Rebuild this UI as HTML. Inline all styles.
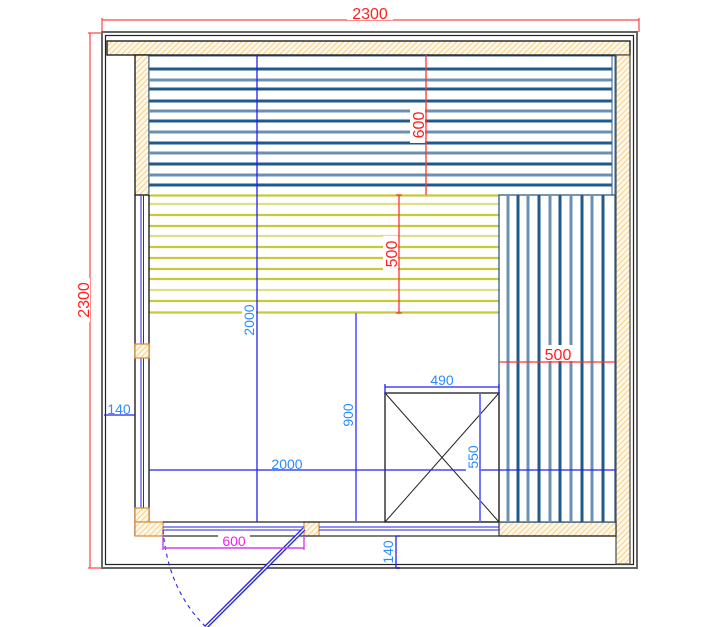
<!DOCTYPE html>
<html><head><meta charset="utf-8"><style>
html,body{margin:0;padding:0;background:#fff;}
svg{display:block;}
text{font-family:"Liberation Sans",sans-serif;}
</style></head><body>
<svg width="724" height="627" viewBox="0 0 724 627" xmlns="http://www.w3.org/2000/svg">
<defs>
<pattern id="h" patternUnits="userSpaceOnUse" width="4" height="4" patternTransform="rotate(45)">
<rect width="4" height="4" fill="#fff8ea"/><line x1="0" y1="0" x2="0" y2="4" stroke="#f3bf5a" stroke-width="1.4"/>
</pattern>
</defs>
<!-- outer frame -->
<rect x="102" y="32" width="535" height="536" fill="none" stroke="#666" stroke-width="2"/>
<rect x="105.5" y="35.5" width="528" height="529" fill="none" stroke="#222" stroke-width="1.2"/>
<!-- red dims 2300 -->
<g stroke="#ff4444" stroke-width="1.2" fill="none">
<line x1="102" y1="20" x2="639" y2="20"/><line x1="102" y1="18" x2="102" y2="32"/><line x1="639" y1="18" x2="639" y2="32"/>
<line x1="90" y1="33" x2="90" y2="568"/><line x1="88" y1="33" x2="102" y2="33"/><line x1="88" y1="568" x2="102" y2="568"/>
</g>
<rect x="347" y="5" width="46" height="15" fill="#fff"/>
<text x="370" y="19" font-size="16" fill="#ff2020" text-anchor="middle">2300</text>
<rect x="76" y="278" width="14" height="44" fill="#fff"/>
<text transform="translate(89,300) rotate(-90)" font-size="16" fill="#ff2020" text-anchor="middle">2300</text>
<!-- walls -->
<g stroke="#111" stroke-width="1.3">
<rect x="107" y="41" width="523" height="14" fill="url(#h)"/>
<rect x="135" y="55" width="14" height="140" fill="url(#h)"/>
<rect x="616" y="55" width="14" height="509" fill="url(#h)" stroke="#555"/>
<rect x="499" y="522" width="117" height="14" fill="url(#h)" stroke="#444"/>
</g>
<!-- top bench -->
<rect x="149" y="56" width="466" height="139" fill="#fff" stroke="#2a5f8f" stroke-width="1"/>
<g stroke-width="3">
<line x1="149" y1="69" x2="612" y2="69" stroke="#1f5a8a"/>
<line x1="149" y1="80" x2="612" y2="80" stroke="#6a91b3"/>
<line x1="149" y1="89" x2="612" y2="89" stroke="#1f5a8a"/>
<line x1="149" y1="101" x2="612" y2="101" stroke="#1f5a8a"/>
<line x1="149" y1="111" x2="612" y2="111" stroke="#6a91b3"/>
<line x1="149" y1="121" x2="612" y2="121" stroke="#1f5a8a"/>
<line x1="149" y1="132" x2="612" y2="132" stroke="#6a91b3"/>
<line x1="149" y1="143" x2="612" y2="143" stroke="#1f5a8a"/>
<line x1="149" y1="153" x2="612" y2="153" stroke="#6a91b3"/>
<line x1="149" y1="164" x2="612" y2="164" stroke="#1f5a8a"/>
<line x1="149" y1="175" x2="612" y2="175" stroke="#6a91b3"/>
<line x1="149" y1="185" x2="612" y2="185" stroke="#1f5a8a"/>
</g>
<line x1="612" y1="56" x2="612" y2="195" stroke="#2a5f8f"/>
<!-- yellow bench -->
<g stroke="#c8c83a" stroke-width="2.2">
<line x1="149" y1="195.5" x2="499" y2="195.5"/>
<line x1="149" y1="204" x2="499" y2="204" stroke="#dede8a"/>
<line x1="149" y1="215" x2="499" y2="215"/>
<line x1="149" y1="226" x2="499" y2="226"/>
<line x1="149" y1="236" x2="499" y2="236" stroke="#dede8a"/>
<line x1="149" y1="247" x2="499" y2="247"/>
<line x1="149" y1="258" x2="499" y2="258"/>
<line x1="149" y1="269" x2="499" y2="269"/>
<line x1="149" y1="279" x2="499" y2="279"/>
<line x1="149" y1="290" x2="499" y2="290" stroke="#dede8a"/>
<line x1="149" y1="301" x2="499" y2="301"/>
<line x1="149" y1="312.5" x2="499" y2="312.5"/>
</g>
<line x1="149" y1="195" x2="149" y2="313" stroke="#c8c83a"/>
<!-- right vertical bench -->
<rect x="499" y="195" width="116" height="327" fill="#fff" stroke="#1f4f7a" stroke-width="1.2"/>
<g stroke-width="3">
<line x1="508" y1="195" x2="508" y2="522" stroke="#6a91b3"/>
<line x1="518" y1="195" x2="518" y2="522" stroke="#1f5a8a"/>
<line x1="528" y1="195" x2="528" y2="522" stroke="#6a91b3"/>
<line x1="539" y1="195" x2="539" y2="522" stroke="#1f5a8a"/>
<line x1="550" y1="195" x2="550" y2="522" stroke="#6a91b3"/>
<line x1="560" y1="195" x2="560" y2="522" stroke="#1f5a8a"/>
<line x1="571" y1="195" x2="571" y2="522" stroke="#6a91b3"/>
<line x1="582" y1="195" x2="582" y2="522" stroke="#1f5a8a"/>
<line x1="592" y1="195" x2="592" y2="522" stroke="#6a91b3"/>
<line x1="603" y1="195" x2="603" y2="522" stroke="#1f5a8a"/>
</g>
<!-- left wall with window -->
<g stroke="#111" stroke-width="1.3">
<line x1="135" y1="195" x2="135" y2="536"/>
<line x1="149" y1="195" x2="149" y2="522"/>
</g>
<line x1="141" y1="195" x2="141" y2="508" stroke="#2222ee" stroke-width="1"/>
<line x1="143.5" y1="195" x2="143.5" y2="508" stroke="#2222ee" stroke-width="1"/>
<g stroke="#d98a3a" stroke-width="1.2">
<rect x="135" y="344" width="14" height="14" fill="url(#h)"/>
<rect x="135" y="508" width="14" height="14" fill="url(#h)"/>
<rect x="135" y="522" width="28" height="14" fill="url(#h)"/>
<rect x="304" y="522" width="15" height="14" fill="url(#h)"/>
</g>
<!-- bottom lines -->
<line x1="163" y1="522" x2="499" y2="522" stroke="#222" stroke-width="1.3"/>
<line x1="163" y1="536" x2="616" y2="536" stroke="#333" stroke-width="1.3"/>
<g stroke="#2222ee" stroke-width="1.1">
<line x1="163" y1="527" x2="304" y2="527"/><line x1="163" y1="530" x2="304" y2="530"/>
<line x1="319" y1="527" x2="499" y2="527"/><line x1="319" y1="530" x2="499" y2="530"/>
</g>
<!-- door -->
<line x1="304" y1="529" x2="206" y2="627" stroke="#2222ee" stroke-width="4"/>
<line x1="304" y1="529" x2="206" y2="627" stroke="#fff" stroke-width="1.3"/>
<path d="M163 530 Q168 590 206 627" fill="none" stroke="#2222ee" stroke-width="1.1" stroke-dasharray="4,4"/>
<g stroke="#cc44ee" stroke-width="1.4">
<line x1="163" y1="548" x2="304" y2="548"/><line x1="163" y1="536" x2="163" y2="550"/><line x1="304" y1="536" x2="304" y2="550"/>
</g>
<rect x="218" y="533" width="32" height="14" fill="#fff"/>
<text x="234" y="546" font-size="14" fill="#ee22ee" text-anchor="middle">600</text>
<!-- stove -->
<g stroke="#222" stroke-width="1">
<rect x="385" y="393" width="114" height="129" fill="none" stroke="#444" stroke-width="1.6"/>
<line x1="385" y1="393" x2="499" y2="522"/><line x1="499" y1="393" x2="385" y2="522"/>
</g>
<!-- blue dims -->
<g stroke="#2222ee" stroke-width="1.3">
<line x1="257" y1="55" x2="257" y2="522"/>
<line x1="356" y1="313" x2="356" y2="522" stroke="#6666ff" stroke-width="1.8"/>
<line x1="149" y1="470" x2="615" y2="470"/>
<line x1="385" y1="387" x2="499" y2="387"/><line x1="385" y1="384" x2="385" y2="393"/><line x1="499" y1="384" x2="499" y2="393"/>
<line x1="480" y1="393" x2="480" y2="522" stroke="#6666ff" stroke-width="1.8"/>
<line x1="104" y1="415" x2="135" y2="415"/>
<line x1="396" y1="536" x2="396" y2="568"/><line x1="396" y1="536" x2="400" y2="536"/><line x1="396" y1="568" x2="400" y2="568"/>
</g>
<g font-size="14" fill="#2a8cff" text-anchor="middle">
<rect x="242" y="302" width="14" height="36" fill="#fff"/>
<text transform="translate(254,320) rotate(-90)">2000</text>
<rect x="341" y="400" width="14" height="30" fill="#fff"/>
<text transform="translate(353,415) rotate(-90)">900</text>
<rect x="270" y="456" width="34" height="13" fill="#fff"/>
<text x="287" y="469">2000</text>
<text x="442" y="385">490</text>
<rect x="466" y="443" width="13" height="28" fill="#fff"/>
<text transform="translate(478,457) rotate(-90)">550</text>
<text x="119" y="414">140</text>
<text transform="translate(393,552) rotate(-90)">140</text>
</g>
<!-- red inner dims -->
<g stroke="#ff3333" stroke-width="1.3">
<line x1="426" y1="55" x2="426" y2="195"/>
<line x1="399" y1="195" x2="399" y2="313"/><line x1="396" y1="195" x2="402" y2="195"/><line x1="396" y1="313" x2="402" y2="313"/>
<line x1="499" y1="362" x2="615" y2="362"/>
</g>
<rect x="410" y="107" width="15" height="36" fill="#fff"/>
<text transform="translate(424,125) rotate(-90)" font-size="16" fill="#ff2020" text-anchor="middle">600</text>
<rect x="383" y="236" width="15" height="36" fill="#fff"/>
<text transform="translate(397,254) rotate(-90)" font-size="16" fill="#ff2020" text-anchor="middle">500</text>
<rect x="541" y="345" width="34" height="16" fill="#fff"/>
<text x="558" y="360" font-size="16" fill="#ff2020" text-anchor="middle">500</text>
</svg>
</body></html>
